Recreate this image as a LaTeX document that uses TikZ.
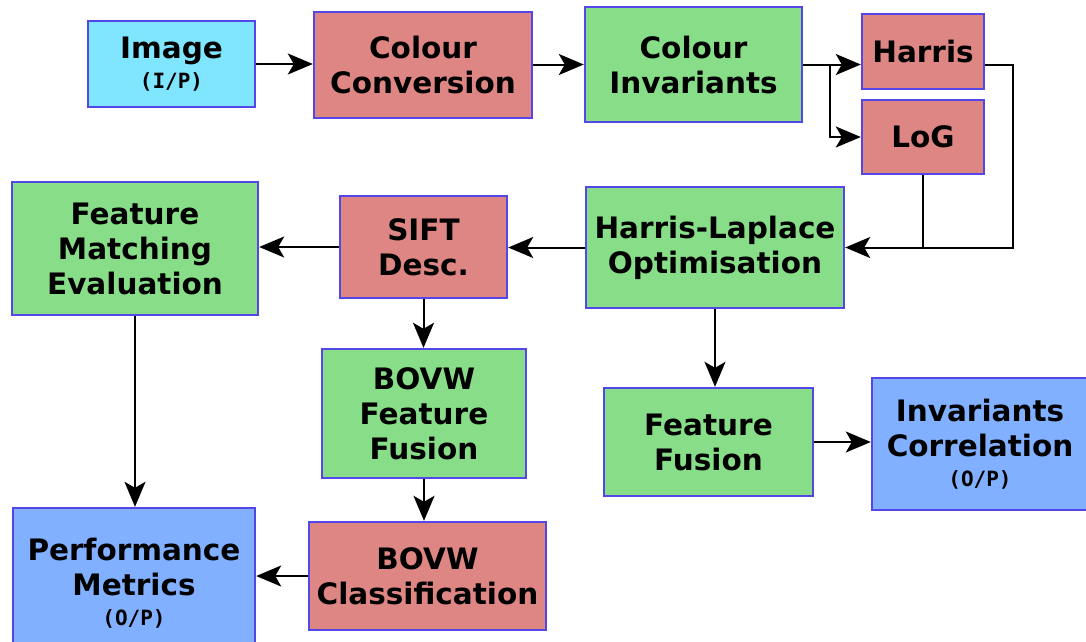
\documentclass[tikz,border=0pt]{standalone}
\usepackage{fontspec}
\setmainfont{DejaVu Sans}
\newfontfamily\monof{DejaVu Sans Mono}
\usetikzlibrary{arrows.meta}
\definecolor{bordc}{RGB}{85,70,232}
\definecolor{cyanf}{RGB}{128,230,255}
\definecolor{redf}{RGB}{222,134,132}
\definecolor{greenf}{RGB}{136,222,136}
\definecolor{bluef}{RGB}{128,176,255}
\tikzset{
  box/.style={draw=bordc, line width=2.4pt, rectangle, inner sep=0pt, align=center,
    font=\fontsize{29.5}{35}\selectfont\bfseries},
  inbox/.style={box, fill=cyanf},
  redbox/.style={box, fill=redf},
  grnbox/.style={box, fill=greenf},
  outbox/.style={box, fill=bluef},
  conn/.style={line width=2pt, draw=black},
  arr/.style={conn, -{Stealth[length=25pt,width=21pt,inset=6pt]}},
}
\newcommand{\iop}[1]{{\monof\fontsize{21}{24}\selectfont\bfseries #1}}
\begin{document}
\begin{tikzpicture}[x=1pt,y=-1pt]
\useasboundingbox (0,0) rectangle (1086,641);
\fill[white] (0,0) rectangle (1086,641);
\clip (0,0) rectangle (1086,641);
\node[inbox, minimum width=167pt, minimum height=86pt] (img) at (171.5,64) {Image\\[-5pt]\iop{(I/P)}};
\node[redbox, minimum width=218pt, minimum height=106pt] (cc) at (423,65) {Colour\\Conversion};
\node[grnbox, minimum width=217pt, minimum height=115pt] (ci) at (693.5,64.5) {Colour\\Invariants};
\node[redbox, minimum width=122pt, minimum height=75pt] (harris) at (923,51.5) {Harris};
\node[redbox, minimum width=122pt, minimum height=74pt] (log) at (923,137) {LoG};
\node[grnbox, minimum width=258pt, minimum height=121pt] (hl) at (715,247.5) {Harris-Laplace\\Optimisation};
\node[redbox, minimum width=167pt, minimum height=102pt] (sift) at (423.5,247) {SIFT\\Desc.};
\node[grnbox, minimum width=246pt, minimum height=133pt] (fme) at (135,248.5) {Feature\\Matching\\Evaluation};
\node[grnbox, minimum width=204pt, minimum height=129pt] (bff) at (424,413.5) {BOVW\\Feature\\Fusion};
\node[grnbox, minimum width=209pt, minimum height=108pt] (ff) at (708.5,442) {Feature\\Fusion};
\node[outbox, minimum width=216pt, minimum height=132pt] (ic) at (980,444) {Invariants\\Correlation\\[-5pt]\iop{(O/P)}};
\node[outbox, minimum width=242pt, minimum height=150pt] (pm) at (134,583) {Performance\\Metrics\\[-5pt]\iop{(O/P)}};
\node[redbox, minimum width=237pt, minimum height=108pt] (bc) at (427.5,576) {BOVW\\Classification};
% connectors
\draw[arr] (img.east) -- (img.east -| cc.west);
\draw[arr] (ci.west -| cc.east) -- (ci.west);
\draw[arr] (ci.east) -- (ci.east -| harris.west);
\draw[arr] ([xshift=27pt]ci.east) |- (log.west);
\coordinate (hr) at ([xshift=28pt]ci.east -| harris.east);
\draw[arr] (ci.east -| harris.east) -- (hr) |- (hl.east);
\draw[conn] (log.south) -- (log.south |- hl.east);
\draw[arr] (hl.west) -- (hl.west -| sift.east);
\draw[arr] (sift.west) -- (sift.west -| fme.east);
\draw[arr] (sift.south) -- (sift.south |- bff.north);
\draw[arr] (bff.south) -- (bff.south |- bc.north);
\draw[arr] (bc.west) -- (bc.west -| pm.east);
\draw[arr] (fme.south) -- (fme.south |- pm.north);
\draw[arr] (hl.south) -- (hl.south |- ff.north);
\draw[arr] (ff.east) -- (ff.east -| ic.west);
\end{tikzpicture}
\end{document}
